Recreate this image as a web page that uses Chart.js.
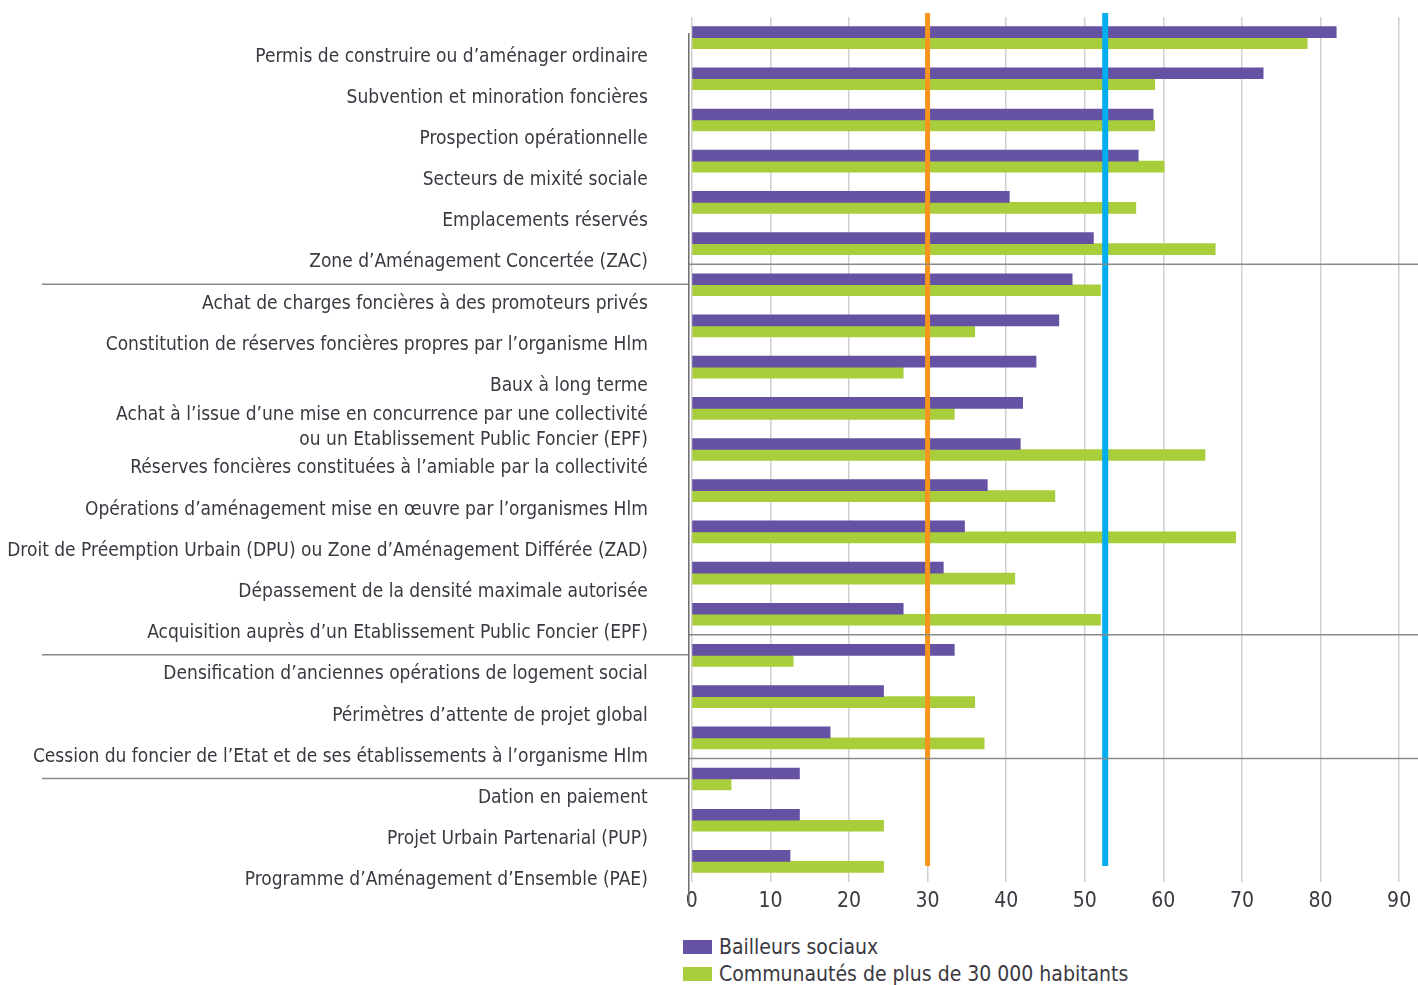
<!DOCTYPE html>
<html>
<head>
<meta charset="utf-8">
<script src="https://cdn.jsdelivr.net/npm/chart.js@4/dist/chart.umd.min.js"></script>
<style>
  html, body { margin: 0; padding: 0; background: #ffffff; }
  #wrap { position: relative; width: 1418px; height: 985px; }
  #c { position: absolute; left: 0; top: 0; }
  #legend { position: absolute; left: 683px; top: 933px; font-family: "Liberation Sans Narrow", "DejaVu Sans Condensed", sans-serif; font-size: 21px; color: #3a3840; }
  #legend .item { display: flex; align-items: center; height: 27px; }
  #legend .box { width: 29px; height: 14px; margin-right: 7px; }
</style>
</head>
<body>
<div id="wrap">
  <canvas id="c" width="1418" height="925" style="width:1418px;height:925px"></canvas>
  <div id="legend"></div>
</div>
<script>
const categories = [
  "Permis de construire ou d’aménager ordinaire",
  "Subvention et minoration foncières",
  "Prospection opérationnelle",
  "Secteurs de mixité sociale",
  "Emplacements réservés",
  "Zone d’Aménagement Concertée (ZAC)",
  "Achat de charges foncières à des promoteurs privés",
  "Constitution de réserves foncières propres par l’organisme Hlm",
  "Baux à long terme",
  ["Achat à l’issue d’une mise en concurrence par une collectivité", "ou un Etablissement Public Foncier (EPF)"],
  "Réserves foncières constituées à l’amiable par la collectivité",
  "Opérations d’aménagement mise en œuvre par l’organismes Hlm",
  "Droit de Préemption Urbain (DPU) ou Zone d’Aménagement Différée (ZAD)",
  "Dépassement de la densité maximale autorisée",
  "Acquisition auprès d’un Etablissement Public Foncier (EPF)",
  "Densification d’anciennes opérations de logement social",
  "Périmètres d’attente de projet global",
  "Cession du foncier de l’Etat et de ses établissements à l’organisme Hlm",
  "Dation en paiement",
  "Projet Urbain Partenarial (PUP)",
  "Programme d’Aménagement d’Ensemble (PAE)"
];
const seriesNames = ["Bailleurs sociaux", "Communautés de plus de 30 000 habitants"];
const bailleurs = [82.0, 72.7, 58.7, 56.8, 40.4, 51.1, 48.4, 46.7, 43.8, 42.1, 41.8, 37.6, 34.7, 32.0, 26.9, 33.4, 24.4, 17.6, 13.7, 13.7, 12.5];
const communautes = [78.3, 58.9, 58.9, 60.1, 56.5, 66.6, 52.0, 36.0, 26.9, 33.4, 65.3, 46.2, 69.2, 41.1, 52.0, 12.9, 36.0, 37.2, 5.0, 24.4, 24.4];
const xTicks = [0, 10, 20, 30, 40, 50, 60, 70, 80, 90];
const refLineOrange = 30;
const refLineBlue = 52.6;
const groupStarts = [6, 15, 18];

const COLORS = { purple: "#6652a3", green: "#a8cf3b", orange: "#f7941d", blue: "#00aeef", grid: "#cfcfcf", axis: "#6b6b6b", text: "#3a3840" };
const FONT = '"Liberation Sans Narrow", "DejaVu Sans Condensed", sans-serif';

const overlay = {
  id: "overlay",
  afterDatasetsDraw(chart) {
    const { ctx, chartArea, scales } = chart;
    const x = scales.x, y = scales.y;
    ctx.save();
    const drawV = (v, color, w) => {
      const px = x.getPixelForValue(v);
      ctx.strokeStyle = color; ctx.lineWidth = w;
      ctx.beginPath(); ctx.moveTo(px, chartArea.top - 4); ctx.lineTo(px, chartArea.bottom - 16); ctx.stroke();
    };
    drawV(refLineOrange, COLORS.orange, 5);
    drawV(refLineBlue, COLORS.blue, 6);
    ctx.strokeStyle = "#8a8a8a"; ctx.lineWidth = 1.5;
    const left = chartArea.left - 3;
    groupStarts.forEach(i => {
      const yb = (y.getPixelForValue(i - 1) + y.getPixelForValue(i)) / 2;
      ctx.beginPath(); ctx.moveTo(left, yb); ctx.lineTo(chart.width, yb); ctx.stroke();
      ctx.beginPath(); ctx.moveTo(42, yb + 20); ctx.lineTo(left, yb + 20); ctx.stroke();
    });
    ctx.strokeStyle = COLORS.axis; ctx.lineWidth = 1.5;
    ctx.beginPath(); ctx.moveTo(left, chartArea.top + 16); ctx.lineTo(left, chartArea.bottom + 22); ctx.stroke();
    ctx.restore();
  }
};

const chart = new Chart(document.getElementById("c"), {
  type: "bar",
  data: {
    labels: categories,
    datasets: [
      { label: seriesNames[0], data: bailleurs, backgroundColor: COLORS.purple, barThickness: 11 },
      { label: seriesNames[1], data: communautes, backgroundColor: COLORS.green, barThickness: 11 }
    ]
  },
  options: {
    indexAxis: "y",
    responsive: false,
    animation: false,
    devicePixelRatio: 1,
    layout: { padding: { top: 17, right: 0, bottom: 13, left: 0 } },
    plugins: { legend: { display: false }, tooltip: { enabled: false } },
    scales: {
      x: {
        min: 0, max: 92.4,
        afterBuildTicks(scale) { scale.ticks = xTicks.map(v => ({ value: v })); },
        afterFit(scale) { scale.height = 30; scale.paddingLeft = 0; scale.paddingRight = 0; },
        grid: { color: COLORS.grid, lineWidth: 1.5, drawTicks: false },
        border: { display: false },
        ticks: { padding: 7, color: COLORS.text, font: { family: FONT, size: 21 } }
      },
      y: {
        afterFit(scale) { scale.width = 691.8; scale.paddingTop = 0; scale.paddingBottom = 0; },
        grid: { display: false, drawTicks: false },
        border: { display: false },
        ticks: { padding: 44, labelOffset: 19, color: COLORS.text, autoSkip: false, font: { family: FONT, size: 19, lineHeight: 1.3 } }
      }
    }
  },
  plugins: [overlay]
});

const legendEl = document.getElementById("legend");
chart.data.datasets.forEach(ds => {
  const item = document.createElement("div");
  item.className = "item";
  const box = document.createElement("span");
  box.className = "box";
  box.style.background = ds.backgroundColor;
  const txt = document.createElement("span");
  txt.textContent = ds.label;
  item.appendChild(box); item.appendChild(txt);
  legendEl.appendChild(item);
});
</script>
</body>
</html>
